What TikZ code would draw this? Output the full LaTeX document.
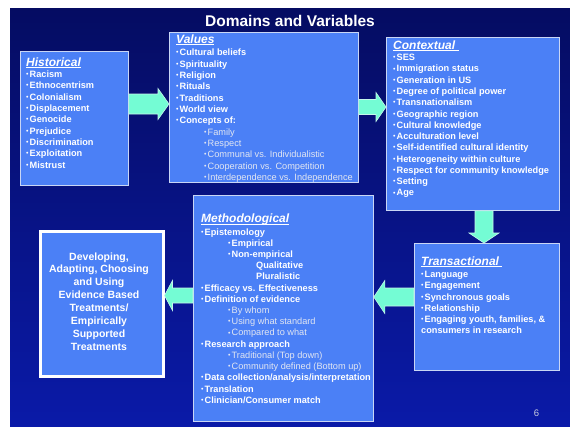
\documentclass[tikz,border=0pt]{standalone}
\usepackage{fontspec}
\setmainfont{Liberation Sans}
\usetikzlibrary{calc}
\definecolor{boxblue}{HTML}{4B80F6}
\definecolor{boxedge}{HTML}{C9D6F5}
\definecolor{aqua}{HTML}{74FCD4}
\definecolor{aquaedge}{HTML}{C4F7EA}
\definecolor{subgray}{HTML}{E2E6F2}
\definecolor{bgtop}{HTML}{050C62}
\definecolor{bgbot}{HTML}{0A1AA8}
\definecolor{pagenum}{HTML}{C8CCE0}

\newcommand\bul{\makebox[3.5pt][l]{\raisebox{0.9pt}{\fontsize{7}{7}\selectfont\mdseries •}}}
\newcommand\itm[1]{\hbox{\bul#1}}
\newcommand\plainl[1]{\hbox{#1}}
\newcommand\subi[2][28pt]{\hbox{\hspace*{#1}{\mdseries\color{subgray}\bul#2}}}
\newcommand\boldi[2][27pt]{\hbox{\hspace*{#1}\bul#2}}
\newcommand\deep[2][55pt]{\hbox{\hspace*{#1}#2}}
\newcommand\hul[1]{\setbox0\hbox{#1}\rlap{\rule[-1.8pt]{\wd0}{0.9pt}}\box0}
\newcommand\stack[2]{\vtop{\baselineskip=#1\lineskiplimit=-100pt\lineskip=0pt #2}}
\newcommand\cl[1]{\hbox to 140pt{\hfil#1\hfil}}
\newcommand\barrow[5]{%
  \coordinate (hb) at ($(#2)!#5pt!(#1)$);
  \draw[arr] ($(#1)!#3pt!90:(#2)$) -- ($(hb)!#3pt!-90:(#1)$) -- ($(hb)!#4pt!-90:(#1)$) -- (#2)
    -- ($(hb)!#4pt!90:(#1)$) -- ($(hb)!#3pt!90:(#1)$) -- ($(#1)!#3pt!-90:(#2)$) -- cycle;}

\begin{document}
\begin{tikzpicture}[x=1pt,y=-1pt,
  box/.style={draw=boxedge, line width=0.8pt, fill=boxblue, inner sep=0pt, anchor=north west},
  devbox/.style={draw=white, line width=3pt, fill=boxblue, inner sep=0pt, anchor=north west},
  arr/.style={fill=aqua, draw=aquaedge, line width=0.6pt, line join=miter},
  txt/.style={anchor=base west, inner sep=0pt, text=white, font=\fontsize{9.2}{11}\selectfont\bfseries},
  head/.style={anchor=base west, inner sep=0pt, text=white, font=\fontsize{12}{14}\selectfont\bfseries\itshape}]
\useasboundingbox (0,0) rectangle (570,426);
\fill[white] (0,0) rectangle (570,426);
\shade[top color=bgtop, bottom color=bgbot] (10,8) rectangle (570,426);

% title
\node[anchor=base, inner sep=0pt, text=white, font=\fontsize{15.5}{18}\selectfont\bfseries] (title) at (290,26.7) {Domains and Variables};

% boxes
\node[box, minimum width=108pt, minimum height=134pt] (hist) at (20,51) {};
\node[box, minimum width=189pt, minimum height=150pt] (vals) at (169,32) {};
\node[box, minimum width=173pt, minimum height=173pt] (ctx) at (386,37) {};
\node[box, minimum width=145pt, minimum height=127pt] (trans) at (414,243) {};
\node[box, minimum width=180pt, minimum height=226pt] (meth) at (193,195) {};
\node[devbox, minimum width=123pt, minimum height=145pt] (dev) at (38.5,229.5) {};

% arrows
\coordinate (a1y) at (0,104);
\coordinate (a1s) at (hist.east |- a1y);
\coordinate (a1e) at (vals.west |- a1y);
\barrow{a1s}{a1e}{10}{15.5}{11}
\coordinate (a2y) at (0,107);
\coordinate (a2s) at (vals.east |- a2y);
\coordinate (a2e) at (ctx.west |- a2y);
\barrow{a2s}{a2e}{7.5}{14.5}{10}
\coordinate (a3x) at (484,0);
\coordinate (a3s) at (a3x |- ctx.south);
\coordinate (a3e) at (a3x |- trans.north);
\barrow{a3s}{a3e}{9}{15}{10}
\coordinate (a4y) at (0,297);
\coordinate (a4s) at (trans.west |- a4y);
\coordinate (a4e) at (meth.east |- a4y);
\barrow{a4s}{a4e}{9}{16.5}{11}
\coordinate (a5y) at (0,295.5);
\coordinate (a5s) at (meth.west |- a5y);
\coordinate (a5e) at (dev.east |- a5y);
\barrow{a5s}{a5e}{7.5}{15}{8}

% Historical
\node[head] (histh) at (26,66) {\hul{Historical}};
\node[txt] (histl) at (26,77.4) {\stack{11.35pt}{%
  \itm{Racism}\itm{Ethnocentrism}\itm{Colonialism}\itm{Displacement}\itm{Genocide}%
  \itm{Prejudice}\itm{Discrimination}\itm{Exploitation}\itm{Mistrust}}};

% Values
\node[head] (valsh) at (176,43.3) {\hul{Values}};
\node[txt] (valsl) at (176,55.7) {\stack{11.33pt}{%
  \itm{Cultural beliefs}\itm{Spirituality}\itm{Religion}\itm{Rituals}\itm{Traditions}%
  \itm{World view}\itm{Concepts of:}\subi{Family}\subi{Respect}%
  \subi{Communal vs. Individualistic}\subi{Cooperation vs. Competition}%
  \subi{Interdependence vs. Independence}}};

% Contextual
\node[head] (ctxh) at (393,49) {\hul{Contextual\ }};
\node[txt] (ctxl) at (393,60.7) {\stack{11.27pt}{%
  \itm{SES}\itm{Immigration status}\itm{Generation in US}\itm{Degree of political power}%
  \itm{Transnationalism}\itm{Geographic region}\itm{Cultural knowledge}\itm{Acculturation level}%
  \itm{Self-identified cultural identity}\itm{Heterogeneity within culture}%
  \itm{Respect for community knowledge}\itm{Setting}\itm{Age}}};

% Transactional
\node[head] (transh) at (421,265) {\hul{Transactional\ }};
\node[txt] (transl) at (421,277.7) {\stack{11.15pt}{%
  \itm{Language}\itm{Engagement}\itm{Synchronous goals}\itm{Relationship}%
  \itm{Engaging youth, families, \&}\plainl{consumers in research}}};

% Methodological
\node[head] (methh) at (201,222.7) {\hul{Methodological}};
\node[txt] (methl) at (201,235) {\stack{11.22pt}{%
  \itm{Epistemology}\boldi{Empirical}\boldi{Non-empirical}\deep{Qualitative}\deep{Pluralistic}%
  \itm{Efficacy vs. Effectiveness}\itm{Definition of evidence}%
  \subi[27pt]{By whom}\subi[27pt]{Using what standard}\subi[27pt]{Compared to what}%
  \itm{Research approach}\subi[27pt]{Traditional (Top down)}\subi[27pt]{Community defined (Bottom up)}%
  \itm{Data collection/analysis/interpretation}\itm{Translation}\itm{Clinician/Consumer match}}};

% Developing
\node[anchor=base, inner sep=0pt, text=white, font=\fontsize{10.5}{12}\selectfont\bfseries] (devt) at (99,260) {\stack{12.96pt}{%
  \cl{Developing,}\cl{Adapting, Choosing}\cl{and Using}\cl{Evidence Based}%
  \cl{Treatments/}\cl{Empirically}\cl{Supported}\cl{Treatments}}};

% page number
\node[anchor=base, inner sep=0pt, text=pagenum, font=\fontsize{9.5}{11}\selectfont] (pnum) at (536.5,416) {6};
\end{tikzpicture}
\end{document}
